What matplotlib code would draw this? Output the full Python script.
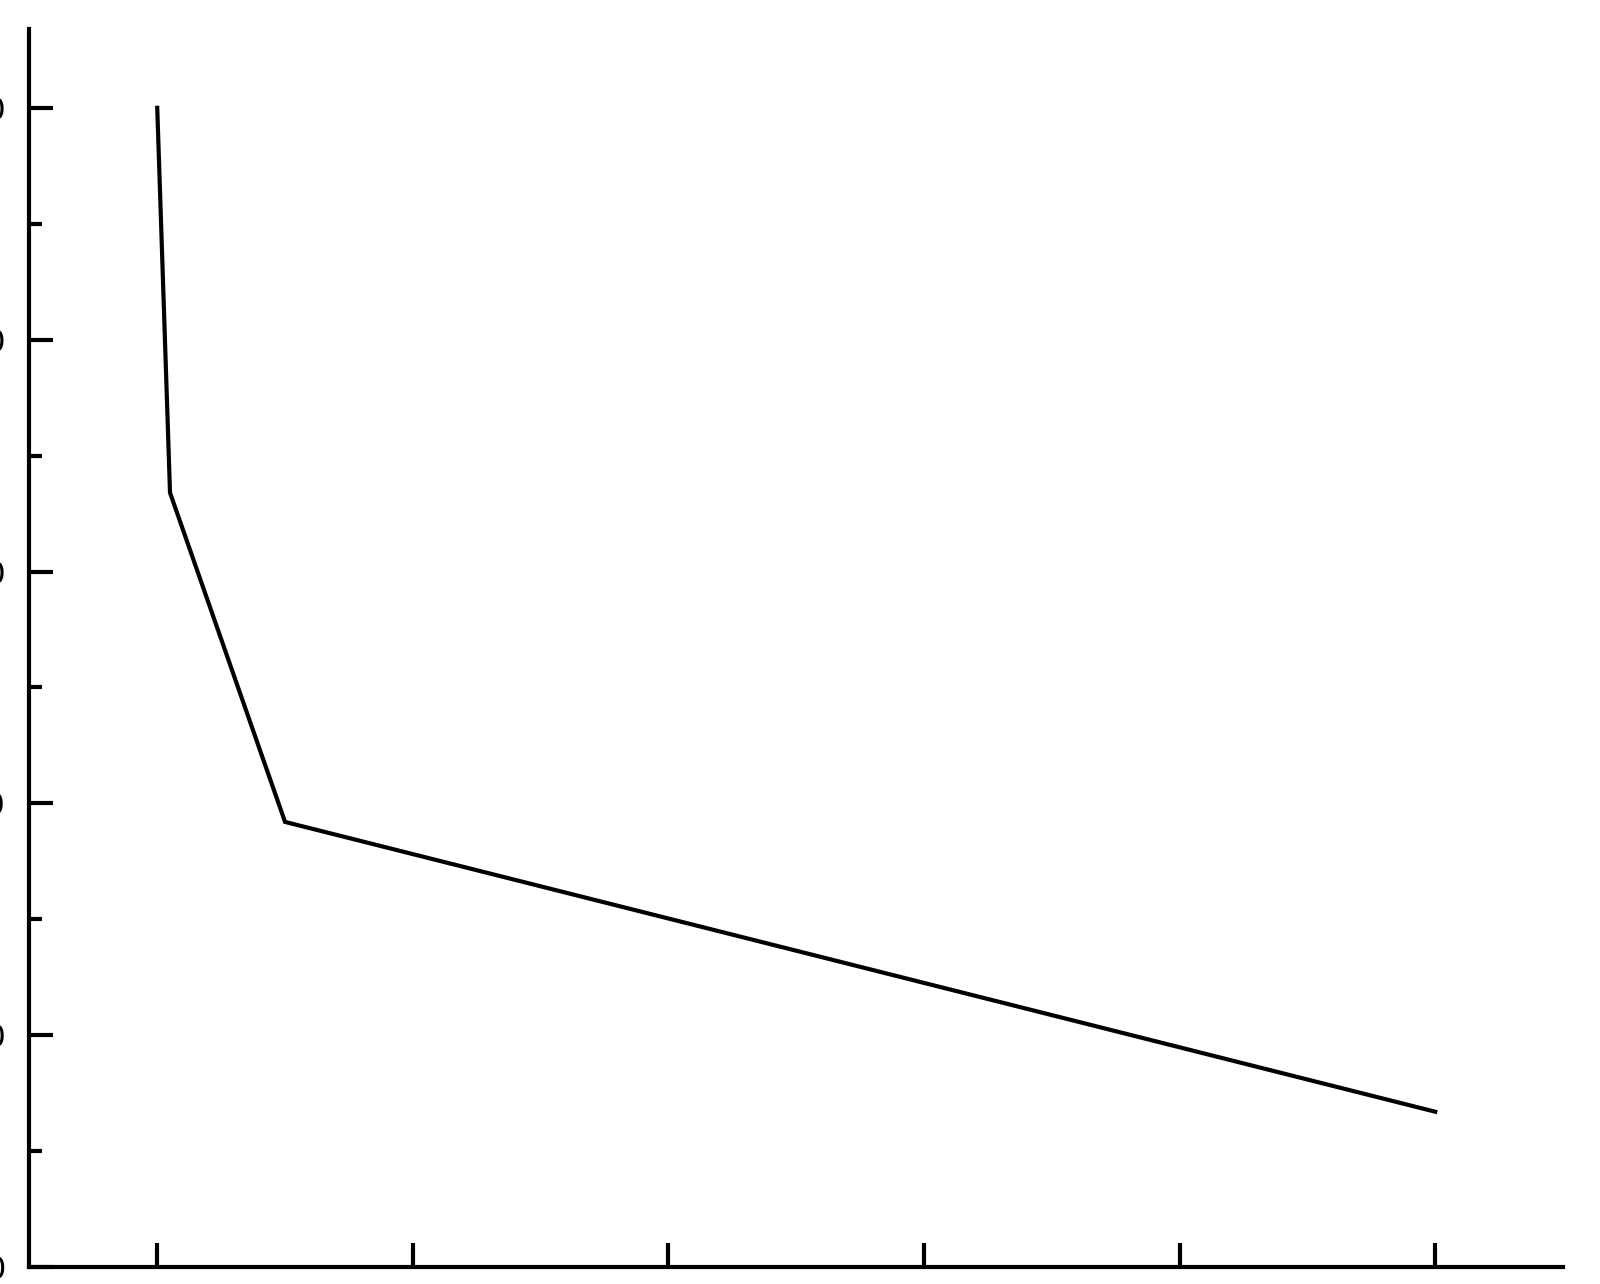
import matplotlib.pyplot as plt
from matplotlib.ticker import MultipleLocator

# data
x_vals = [0, 1, 10, 100]
y_vals = [50.0, 33.4, 19.2, 6.7]
x_ticks = [0, 20, 40, 60, 80, 100]
y_ticks = [0, 10, 20, 30, 40, 50]

fig = plt.figure(figsize=(16, 12.84), dpi=100)
ax = fig.add_axes([0.0184, 0.0132, 0.9585, 0.9642])

ax.plot(x_vals, y_vals, color='black', linewidth=3, solid_joinstyle='miter')

ax.set_xlim(-10, 110)
ax.set_ylim(0, 53.4)
ax.set_xticks(x_ticks)
ax.set_yticks(y_ticks)
ax.yaxis.set_minor_locator(MultipleLocator(5))

for side in ['top', 'right']:
    ax.spines[side].set_visible(False)
for side in ['left', 'bottom']:
    ax.spines[side].set_linewidth(3)

# labels sit mostly outside the crop, as in the reference
ax.tick_params(axis='both', which='major', direction='in', length=17, width=3,
               labelsize=23, pad=17)
ax.tick_params(axis='y', which='minor', direction='in', length=9, width=3)

fig.savefig('out.png', dpi=100)
